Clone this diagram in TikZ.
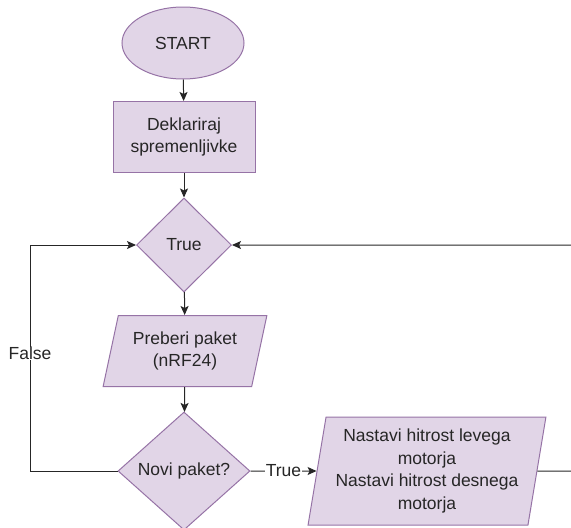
\documentclass[tikz,border=0pt]{standalone}
\usepackage{fontspec}
\setmainfont{Liberation Sans}
\usetikzlibrary{shapes.geometric,arrows.meta}
\definecolor{pfill}{HTML}{E1D5E7}
\definecolor{pline}{HTML}{9673A6}
\definecolor{txt}{HTML}{262626}
\tikzset{
  base/.style={draw=pline,fill=pfill,line width=1pt,text=txt,font=\fontsize{17.5}{22.5}\selectfont,align=center,inner sep=0pt},
  startbox/.style={base,ellipse,minimum width=122pt,minimum height=72pt},
  procbox/.style={base,rectangle,minimum width=142pt,minimum height=71pt},
  decbox/.style={base,diamond},
  iobox/.style={base,trapezium,trapezium stretches=true},
  conn/.style={draw=black!85,line width=1pt,-{Stealth[length=9pt,width=8pt,inset=2pt]}},
  lbl/.style={fill=white,text=txt,font=\fontsize{17.5}{21}\selectfont,inner sep=0.5pt}
}
\begin{document}
\begin{tikzpicture}[x=1pt,y=-1pt]
\useasboundingbox (0,0) rectangle (571,528);
\clip (0,0) rectangle (571,528);
\node[startbox] (start) at (183,43) {START};
\node[procbox] (decl) at (184,137) {Deklariraj\\spremenljivke};
\node[decbox,minimum width=95pt,minimum height=94pt] (true) at (184,245) {True};
\node[iobox,trapezium left angle=73,trapezium right angle=107,minimum width=164pt,minimum height=71pt] (read) at (185,351) {Preberi paket\\(nRF24)};
\node[decbox,minimum width=132pt,minimum height=118pt] (novi) at (184,471) {Novi paket?};
\node[iobox,trapezium left angle=79,trapezium right angle=101,minimum width=238pt,minimum height=108pt] (set) at (427,471) {Nastavi hitrost levega\\motorja\\Nastavi hitrost desnega\\motorja};
\coordinate (lb) at (30,471);
\coordinate (lt) at (30,245);
\coordinate (rb) at (620,471);
\coordinate (rt) at (620,245);
\draw[conn] (start) -- (decl);
\draw[conn] (decl) -- (true);
\draw[conn] (true) -- (read);
\draw[conn] (read) -- (novi);
\draw[conn] (novi.west) -- (lb) -- node[lbl,pos=0.52] {False} (lt) -- (true.west);
\draw[conn] (novi.east) -- node[lbl,pos=0.5] {True} (set.west);
\draw[conn] (set.east) -- (rb) -- (rt) -- (true.east);
\end{tikzpicture}
\end{document}
